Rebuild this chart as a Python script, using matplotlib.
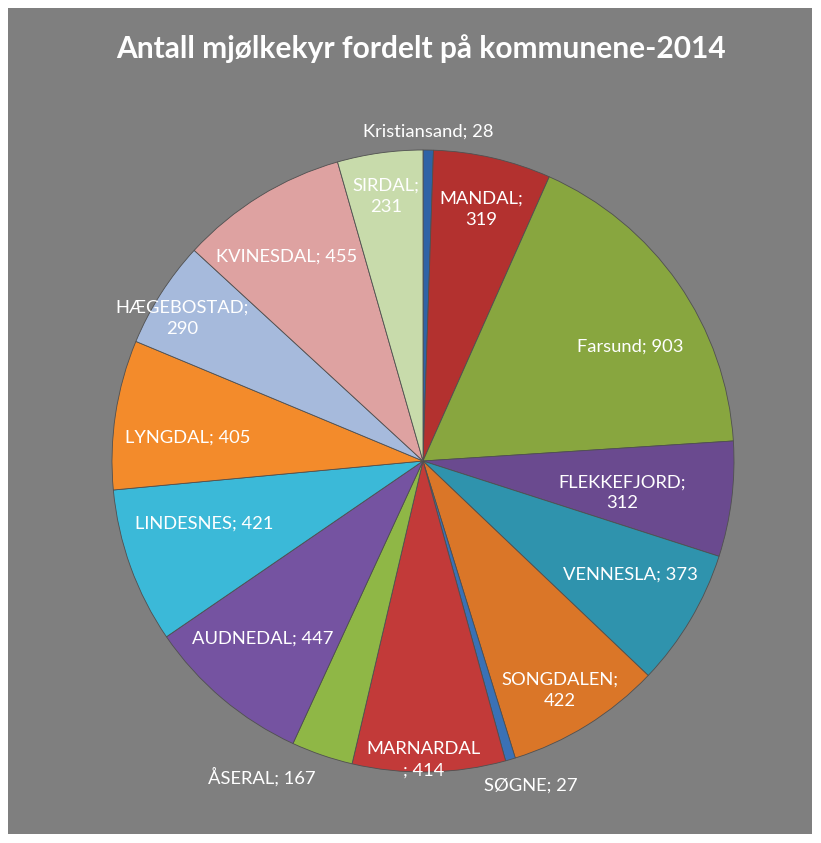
import matplotlib
matplotlib.use("Agg")
import matplotlib.pyplot as plt
from matplotlib.patches import Rectangle
import numpy as np

# data, clockwise from 12 o'clock
kommuner = ['Kristiansand', 'MANDAL', 'Farsund', 'FLEKKEFJORD', 'VENNESLA',
            'SONGDALEN', 'SØGNE', 'MARNARDAL', 'ÅSERAL', 'AUDNEDAL',
            'LINDESNES', 'LYNGDAL', 'HÆGEBOSTAD', 'KVINESDAL', 'SIRDAL']
kyr = [28, 319, 903, 312, 373, 422, 27, 414, 167, 447, 421, 405, 290, 455, 231]

farger = ['#2f63a6', '#b3312f', '#88a63f', '#6a4a8f', '#2f93ad',
          '#da7628', '#3a71b6', '#c23a39', '#8fb746', '#7553a1',
          '#3bb9d8', '#f38b2b', '#a6badc', '#dea2a1', '#c8dbab']

# label layout: text, radius factor, angle offset (deg)
etiketter = ['Kristiansand; 28', 'MANDAL;\n319', 'Farsund; 903', 'FLEKKEFJORD;\n312',
             'VENNESLA; 373', 'SONGDALEN;\n422', 'SØGNE; 27', 'MARNARDAL\n; 414',
             'ÅSERAL; 167', 'AUDNEDAL; 447', 'LINDESNES; 421', 'LYNGDAL; 405',
             'HÆGEBOSTAD;\n290', 'KVINESDAL; 455', 'SIRDAL;\n231']
rad_faktor = [1.06, 0.83, 0.76, 0.65, 0.76, 0.86, 1.10, 0.96, 1.14, 0.77,
              0.73, 0.76, 0.90, 0.79, 0.86]
vinkel_just = [0, 0, -6, -2, 2, -1, 2, -1, -8, -2, -4, 3, 2, 2, 0]

W, H = 821, 843
fig = plt.figure(figsize=(W / 100, H / 100), dpi=100)
fig.patch.set_facecolor('white')
fig.patches.append(Rectangle((8, 9), 804, 826, transform=None,
                             facecolor='#7f7f7f', edgecolor='none', zorder=0))

ax = fig.add_axes([0, 0, 1, 1])
ax.set_zorder(2)
ax.patch.set_alpha(0)

cx, cy, r = 423, H - 461, 311

wedges, _ = ax.pie(kyr, colors=farger, startangle=90, counterclock=False,
                   center=(cx, cy), radius=r, frame=True,
                   wedgeprops=dict(edgecolor='#505050', linewidth=0.6))
ax.set_xlim(0, W)
ax.set_ylim(0, H)
ax.set_aspect('equal')
ax.axis('off')

total = sum(kyr)
cum = np.cumsum(kyr)
for i, tekst in enumerate(etiketter):
    mid = (cum[i] - kyr[i] / 2) / total
    ang = np.deg2rad(90 - mid * 360 + vinkel_just[i])
    x = cx + rad_faktor[i] * r * np.cos(ang)
    y = cy + rad_faktor[i] * r * np.sin(ang)
    ax.text(x, y, tekst, ha='center', va='center', color='white',
            fontsize=13.2, family='Lato', linespacing=1.4)

fig.text(421 / W, 1 - 49 / H, 'Antall mjølkekyr fordelt på kommunene-2014',
         ha='center', va='center', color='white', fontsize=21.5,
         family='Lato', weight='bold', zorder=3)

fig.savefig('out.png', dpi=100)
